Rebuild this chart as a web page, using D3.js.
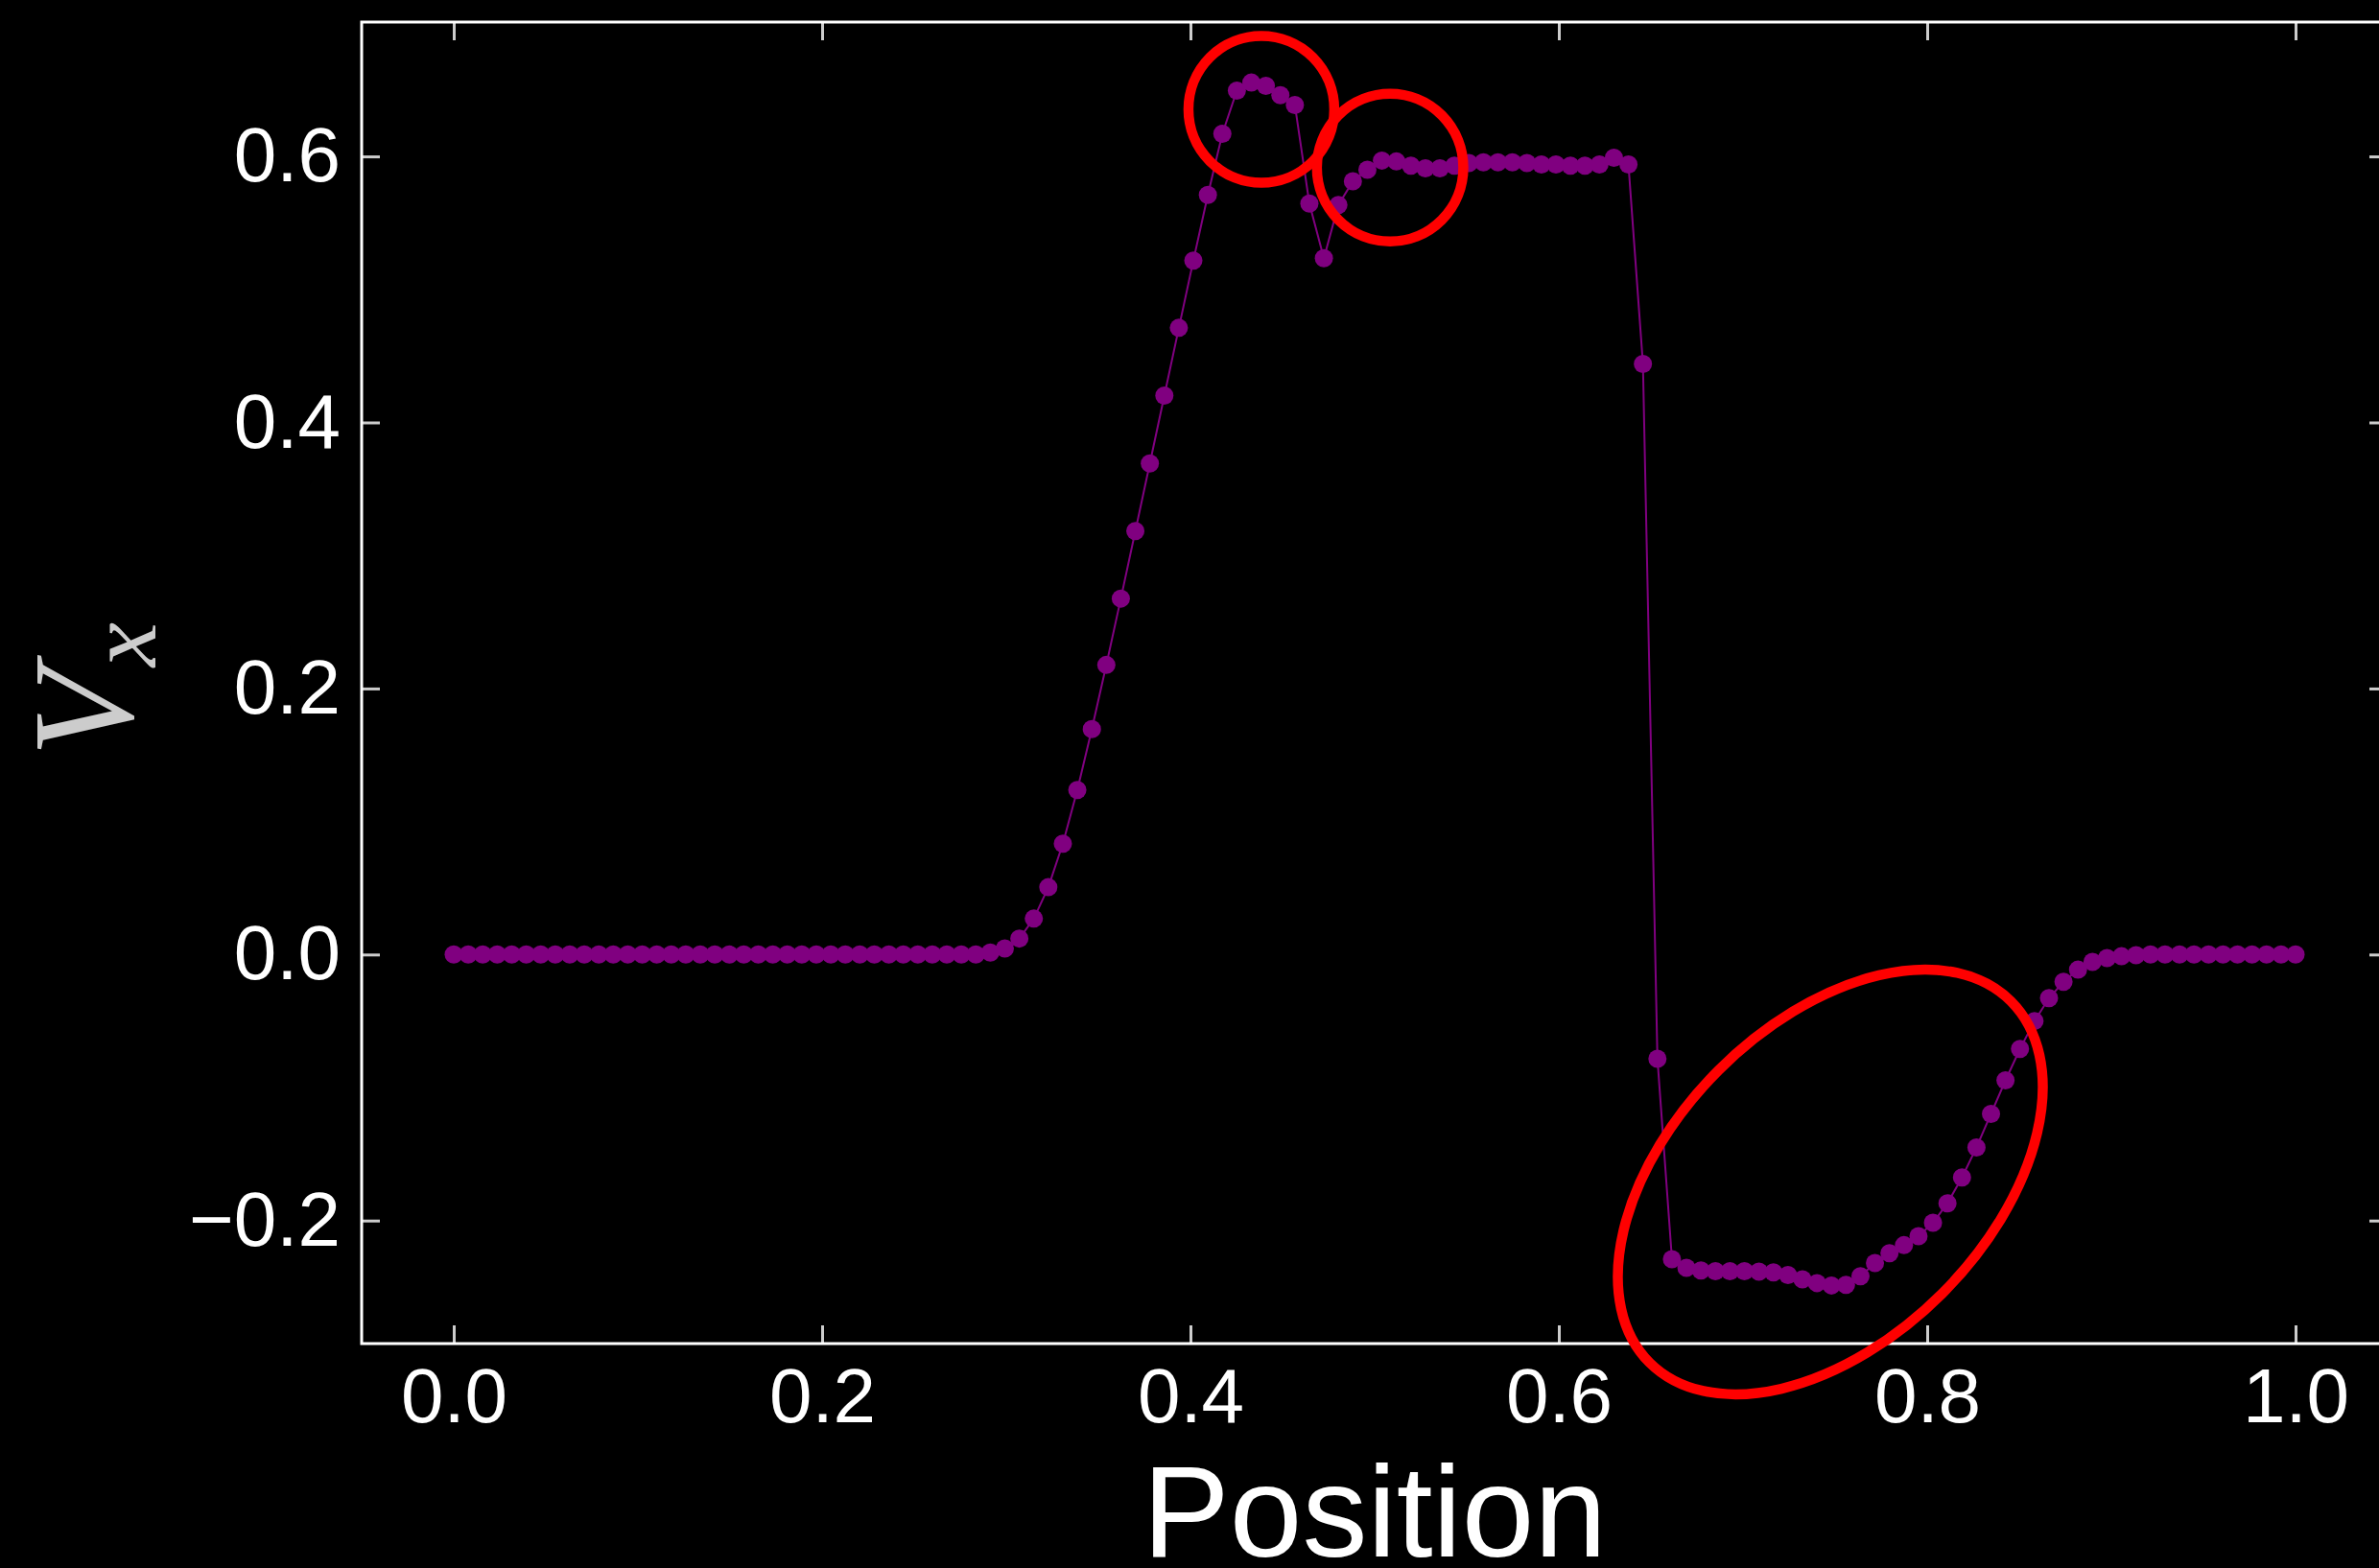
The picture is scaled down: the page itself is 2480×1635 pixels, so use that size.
<!DOCTYPE html>
<html>
<head>
<meta charset="utf-8">
<script src="https://cdn.jsdelivr.net/npm/d3@7"></script>
<style>
  html, body { margin: 0; padding: 0; background: #000; }
  svg { display: block; }
</style>
</head>
<body>
<svg id="chart" width="2480" height="1635"></svg>
<script>
// ---- data ----
const positions = [
  0, 0.00787, 0.01575, 0.02362, 0.0315, 0.03937, 0.04724, 0.05512, 0.06299, 0.07087,
  0.07874, 0.08661, 0.09449, 0.10236, 0.11024, 0.11811, 0.12598, 0.13386, 0.14173, 0.14961,
  0.15748, 0.16535, 0.17323, 0.1811, 0.18898, 0.19685, 0.20472, 0.2126, 0.22047, 0.22835,
  0.23622, 0.24409, 0.25197, 0.25984, 0.26772, 0.27559, 0.28346, 0.29134, 0.29921, 0.30709,
  0.31496, 0.32283, 0.33071, 0.33858, 0.34646, 0.35433, 0.3622, 0.37008, 0.37795, 0.38583,
  0.3937, 0.40157, 0.40945, 0.41732, 0.4252, 0.43307, 0.44094, 0.44882, 0.45669, 0.46457,
  0.47244, 0.48031, 0.48819, 0.49606, 0.50394, 0.51181, 0.51969, 0.52756, 0.53543, 0.54331,
  0.55118, 0.55906, 0.56693, 0.5748, 0.58268, 0.59055, 0.59843, 0.6063, 0.61417, 0.62205,
  0.62992, 0.6378, 0.64567, 0.65354, 0.66142, 0.66929, 0.67717, 0.68504, 0.69291, 0.70079,
  0.70866, 0.71654, 0.72441, 0.73228, 0.74016, 0.74803, 0.75591, 0.76378, 0.77165, 0.77953,
  0.7874, 0.79528, 0.80315, 0.81102, 0.8189, 0.82677, 0.83465, 0.84252, 0.85039, 0.85827,
  0.86614, 0.87402, 0.88189, 0.88976, 0.89764, 0.90551, 0.91339, 0.92126, 0.92913, 0.93701,
  0.94488, 0.95276, 0.96063, 0.9685, 0.97638, 0.98425, 0.99213, 1
];
const vx = [
  0, 0, 0, 0, 0, 0, 0, 0, 0, 0,
  0, 0, 0, 0, 0, 0, 0, 0, 0, 0,
  0, 0, 0, 0, 0, 0, 0, 0, 0, 0,
  0, 0, 0, 0, 0, 0, 0, 0.0015, 0.0045, 0.012,
  0.027, 0.0506, 0.0833, 0.1237, 0.1694, 0.2177, 0.2676, 0.3183, 0.3692, 0.4202,
  0.4711, 0.5217, 0.571, 0.617, 0.6495, 0.6555, 0.653, 0.646, 0.6387, 0.5645,
  0.5234, 0.5635, 0.5813, 0.590, 0.5969, 0.5962, 0.593, 0.591, 0.591, 0.593,
  0.595, 0.5955, 0.5955, 0.5955, 0.595, 0.594, 0.594, 0.593, 0.593, 0.594,
  0.599, 0.594, 0.444, -0.0784, -0.229, -0.2355, -0.2375, -0.238, -0.238, -0.238,
  -0.2384, -0.239, -0.241, -0.2442, -0.247, -0.2488, -0.2483, -0.2418, -0.232, -0.2245,
  -0.2185, -0.2118, -0.2017, -0.187, -0.1676, -0.145, -0.1198, -0.0946, -0.071, -0.050,
  -0.0328, -0.0205, -0.0114, -0.0056, -0.0027, -0.0013, -0.0005, 0, 0, 0,
  0, 0, 0, 0, 0, 0, 0, 0
];
const xTicks = [0.0, 0.2, 0.4, 0.6, 0.8, 1.0];
const yTicks = [-0.2, 0.0, 0.2, 0.4, 0.6];
const xDomain = [-0.05, 1.05];
const yDomain = [-0.2925, 0.701];
const xLabel = "Position";
const yLabelMain = "V";
const yLabelSub = "x";
// annotation ellipses (centres in data units)
const markCx = [0.4385, 0.5084, 0.7474];
const markCy = [0.6354, 0.5916, -0.171];

// ---- layout ----
const L = 377, R = 2489, T = 23, B = 1401;
const svg = d3.select("#chart");
svg.append("rect").attr("width", 2480).attr("height", 1635).attr("fill", "#000");

const x = d3.scaleLinear().domain(xDomain).range([L, R]);
const y = d3.scaleLinear().domain(yDomain).range([B, T]);

const fmt = d3.format(".1f");
const tickLen = 19;
const tickColor = "#cccccc";
const font = "'Liberation Sans', Arial, Helvetica, sans-serif";

function styleAxis(g, labels) {
  g.select(".domain").remove();
  g.selectAll(".tick line").attr("stroke", tickColor).attr("stroke-width", 3);
  g.selectAll(".tick text")
    .attr("fill", "#fff")
    .style("font-family", font)
    .style("font-size", "80px");
}

// bottom
const gB = svg.append("g").attr("transform", `translate(0,${B})`)
  .call(d3.axisBottom(x).tickValues(xTicks).tickFormat(fmt).tickSizeInner(-tickLen).tickSizeOuter(0).tickPadding(25));
styleAxis(gB);
// top
const gT = svg.append("g").attr("transform", `translate(0,${T})`)
  .call(d3.axisTop(x).tickValues(xTicks).tickFormat("").tickSizeInner(-tickLen).tickSizeOuter(0));
styleAxis(gT);
// left
const gL = svg.append("g").attr("transform", `translate(${L},0)`)
  .call(d3.axisLeft(y).tickValues(yTicks).tickFormat(fmt).tickSizeInner(-tickLen).tickSizeOuter(0).tickPadding(22));
styleAxis(gL);
// right
const gR = svg.append("g").attr("transform", `translate(${R},0)`)
  .call(d3.axisRight(y).tickValues(yTicks).tickFormat("").tickSizeInner(-tickLen).tickSizeOuter(0));
styleAxis(gR);

// spines
svg.append("rect")
  .attr("x", L).attr("y", T).attr("width", R - L).attr("height", B - T)
  .attr("fill", "none").attr("stroke", "#fff").attr("stroke-width", 3);

// data
const pts = positions.map((p, i) => ({ p, v: vx[i] }));
svg.append("path")
  .datum(pts)
  .attr("fill", "none")
  .attr("stroke", "#800080")
  .attr("stroke-width", 2)
  .attr("d", d3.line().x(d => x(d.p)).y(d => y(d.v)));
svg.append("g").selectAll("circle").data(pts).join("circle")
  .attr("cx", d => x(d.p)).attr("cy", d => y(d.v)).attr("r", 9.5)
  .attr("fill", "#800080");

// axis labels
svg.append("text")
  .attr("x", (L + R) / 2).attr("y", 1623)
  .attr("text-anchor", "middle")
  .attr("fill", "#fff")
  .style("font-family", font)
  .style("font-size", "136px")
  .text(xLabel);

const yl = svg.append("text")
  .attr("transform", `translate(138,719) rotate(-90)`)
  .attr("text-anchor", "middle")
  .attr("fill", "#cccccc")
  .style("font-family", "'Liberation Serif', 'DejaVu Serif', serif")
  .style("font-style", "italic");
yl.append("tspan").style("font-size", "150px").text(yLabelMain);
yl.append("tspan").attr("dy", 24).attr("dx", 2).style("font-size", "104px").text(yLabelSub);

// annotation ellipses
const ann = svg.append("g").attr("fill", "none").attr("stroke", "#ff0000").attr("stroke-width", 10.5);
const markRx = [76, 76.3, 266.4];
const markRy = [76.5, 77, 164.7];
const markRot = [0, 0, -45];
markCx.forEach((cx, i) => {
  ann.append("ellipse")
    .attr("transform", `translate(${x(cx)},${y(markCy[i])}) rotate(${markRot[i]})`)
    .attr("rx", markRx[i]).attr("ry", markRy[i]);
});
</script>
</body>
</html>
